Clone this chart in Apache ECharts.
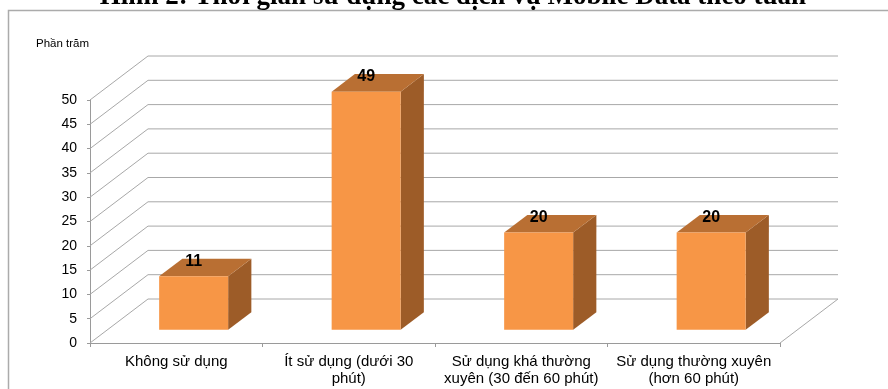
<!DOCTYPE html>
<html>
<head>
<meta charset="utf-8">
<script src="https://cdn.jsdelivr.net/npm/echarts@6/dist/echarts.min.js"></script>
<style>
  html, body { margin: 0; padding: 0; background: #fff; }
  #chart { width: 888px; height: 389px; }
</style>
</head>
<body>
<div id="chart"></div>
<script>
// du lieu doc tu hinh
var categories = ['Không sử dụng', 'Ít sử dụng (dưới 30 phút)', 'Sử dụng khá thường xuyên (30 đến 60 phút)', 'Sử dụng thường xuyên (hơn 60 phút)'];
var categoryLabels = ['Không sử dụng', 'Ít sử dụng (dưới 30\nphút)', 'Sử dụng khá thường\nxuyên (30 đến 60 phút)', 'Sử dụng thường xuyên\n(hơn 60 phút)'];
var percents = [11, 49, 20, 20];
var yTicks = [0, 5, 10, 15, 20, 25, 30, 35, 40, 45, 50];

// do sau gia 3D
var DX = 58, DY = -44;
var font = 'Arial, "Liberation Sans", sans-serif';

var myChart = echarts.init(document.getElementById('chart'));

var option = {
  animation: false,
  backgroundColor: '#fff',
  grid: { left: 90, right: 108, top: 100, bottom: 46 },
  xAxis: {
    type: 'category',
    data: categories,
    axisLine: { lineStyle: { color: '#9a9a9a' } },
    axisTick: { show: true, length: 4, lineStyle: { color: '#9a9a9a' } },
    axisLabel: {
      interval: 0,
      margin: 10,
      color: '#000',
      fontFamily: font,
      fontSize: 15,
      lineHeight: 17,
      formatter: function (v, i) { return categoryLabels[i]; }
    }
  },
  yAxis: {
    type: 'value',
    min: 0,
    max: 50,
    interval: 5,
    axisLine: { show: true, lineStyle: { color: '#9a9a9a' } },
    axisTick: { show: true, length: 3, lineStyle: { color: '#9a9a9a' } },
    splitLine: { show: false },
    axisLabel: { margin: 13, color: '#000', fontFamily: font, fontSize: 14 }
  },
  graphic: [
    {
      type: 'rect',
      shape: { x: 8.5, y: 10.5, width: 900, height: 400 },
      style: { fill: 'none', stroke: '#ababab', lineWidth: 1.5 },
      silent: true
    },
    {
      type: 'text',
      x: 453,
      y: -16,
      z: 10,
      style: {
        text: 'Hình 2: Thời gian sử dụng các dịch vụ Mobile Data theo tuần',
        font: 'bold 27px "Liberation Serif", "Times New Roman", serif',
        fill: '#000',
        align: 'center',
        verticalAlign: 'top'
      }
    },
    {
      type: 'text',
      left: 36,
      top: 38,
      style: { text: 'Phần trăm', font: '11.5px ' + font, fill: '#000' }
    }
  ],
  series: [
    {
      // tuong sau va tuong trai
      type: 'custom',
      clip: false,
      silent: true,
      z: 1,
      data: yTicks.map(function (v) { return [0, v]; }),
      renderItem: function (params, api) {
        var cs = params.coordSys;
        var v = api.value(1);
        var y = api.coord([0, v])[1];
        var x0 = cs.x, x1 = cs.x + cs.width;
        var st = { stroke: '#a8a8a8', lineWidth: 1 };
        var children = [
          { type: 'line', shape: { x1: x0, y1: y, x2: x0 + DX, y2: y + DY }, style: st },
          { type: 'line', shape: { x1: x0 + DX, y1: y + DY, x2: x1 + DX, y2: y + DY }, style: st }
        ];
        if (v === 0) {
          children.push({ type: 'line', shape: { x1: x1, y1: y, x2: x1 + DX, y2: y + DY }, style: st });
        }
        return { type: 'group', children: children };
      }
    },
    {
      // cot 3D
      type: 'custom',
      clip: false,
      z: 2,
      data: percents.map(function (v, i) { return [i, v]; }),
      renderItem: function (params, api) {
        var idx = api.value(0);
        var val = api.value(1);
        var base = api.coord([idx, 0]);
        var top = api.coord([idx, val]);
        var bw = api.size([1, 0])[0];
        var w = bw * 0.4;
        var fx = base[0] - w / 2 + 0.3 * DX;
        var fy0 = base[1] + 0.3 * DY;
        var fy1 = top[1] + 0.3 * DY;
        var ox = 0.4 * DX, oy = 0.4 * DY;
        return {
          type: 'group',
          children: [
            {
              type: 'polygon',
              shape: { points: [[fx + w, fy1], [fx + w + ox, fy1 + oy], [fx + w + ox, fy0 + oy], [fx + w, fy0]] },
              style: { fill: '#9d5c28' }
            },
            {
              type: 'polygon',
              shape: { points: [[fx, fy1], [fx + ox, fy1 + oy], [fx + w + ox, fy1 + oy], [fx + w, fy1]] },
              style: { fill: '#b96f33' }
            },
            {
              type: 'rect',
              shape: { x: fx, y: fy1, width: w, height: fy0 - fy1 },
              style: { fill: '#f79646' }
            },
            {
              type: 'text',
              x: fx + w / 2,
              y: fy1 - 15,
              style: {
                text: String(val),
                font: 'bold 16px ' + font,
                fill: '#000',
                align: 'center',
                verticalAlign: 'middle'
              }
            }
          ]
        };
      }
    }
  ]
};

myChart.setOption(option);
</script>
</body>
</html>
